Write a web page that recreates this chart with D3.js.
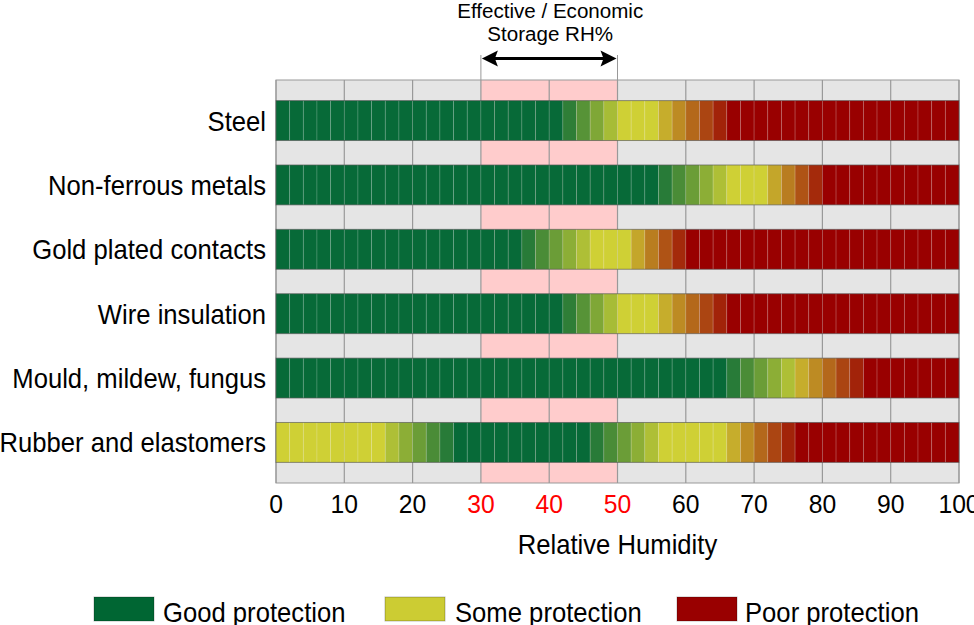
<!DOCTYPE html>
<html>
<head>
<meta charset="utf-8">
<script src="https://cdn.jsdelivr.net/npm/d3@7/dist/d3.min.js"></script>
<style>
  html, body { margin: 0; padding: 0; background: #fff; overflow: hidden; }
  svg { display: block; }
  text { font-family: "Liberation Sans", Arial, sans-serif; }
</style>
</head>
<body>
<svg id="chart" width="974" height="625"></svg>
<script>
// ---------------- DATA ----------------
const categories = [
  "Steel",
  "Non-ferrous metals",
  "Gold plated contacts",
  "Wire insulation",
  "Mould, mildew, fungus",
  "Rubber and elastomers"
];
// protection levels: 0 = good, 1 = some, 2 = poor
const levelNames = ["Good protection", "Some protection", "Poor protection"];
// plateau zones per material: [fromRH, toRH, level]; cells between plateaus blend
const steelZones      = [[0, 42, 0], [50, 56, 1], [66, 100, 2]];
const nonFerrousZones = [[0, 56, 0], [66, 72, 1], [80, 100, 2]];
const goldZones       = [[0, 36, 0], [46, 52, 1], [60, 100, 2]];
const wireZones       = [[0, 42, 0], [50, 56, 1], [66, 100, 2]];
const mouldZones      = [[0, 66, 0], [76, 76, 1], [86, 100, 2]];
const rubberZones     = [[0, 16, 1], [26, 46, 0], [56, 66, 1], [76, 100, 2]];
const zones = [steelZones, nonFerrousZones, goldZones, wireZones, mouldZones, rubberZones];
const cellRH = 2;                       // RH width of one cell
const xTicks = [0, 10, 20, 30, 40, 50, 60, 70, 80, 90, 100];
const storageRange = [30, 50];          // effective / economic storage RH%

// ---------------- STYLE ----------------
const barColors = ["#076a38", "#cfd035", "#990000"];
const legendColors = ["#006633", "#cccc33", "#990000"];

const svg = d3.select("#chart");
const x = d3.scaleLinear().domain([0, 100]).range([276, 959]);
const y = d3.scaleBand().domain(categories).range([80, 483])
  .paddingInner(0.38).paddingOuter(0.32);

function stxt(g, px, py, str, size, sx, anchor, fill) {
  return g.append("text")
    .attr("transform", `translate(${px},${py}) scale(${sx},1)`)
    .attr("text-anchor", anchor)
    .attr("font-size", size)
    .attr("fill", fill || "#000")
    .text(str);
}

// background
const bg = svg.append("g");
bg.append("rect")
  .attr("x", x(0)).attr("y", 80)
  .attr("width", x(100) - x(0)).attr("height", 403)
  .attr("fill", "#e5e5e5");
bg.append("rect")
  .attr("x", x(storageRange[0])).attr("y", 80)
  .attr("width", x(storageRange[1]) - x(storageRange[0])).attr("height", 403)
  .attr("fill", "#ffcccc");
bg.selectAll("line.grid").data(xTicks).join("line")
  .attr("class", "grid")
  .attr("x1", d => x(d)).attr("x2", d => x(d))
  .attr("y1", 80).attr("y2", 483)
  .attr("stroke", "#999").attr("stroke-width", 1.2);
bg.append("rect")
  .attr("x", x(0)).attr("y", 80)
  .attr("width", x(100) - x(0)).attr("height", 403)
  .attr("fill", "none").attr("stroke", "#999").attr("stroke-width", 1);

// cells
function cellColor(zs, i) {
  const a0 = i * cellRH, a1 = a0 + cellRH, m = a0 + cellRH / 2;
  const inside = zs.find(z => z[0] <= a0 && a1 <= z[1]);
  if (inside) return barColors[inside[2]];
  let prev = null, next = null;
  zs.forEach(z => {
    if (z[1] <= a0 && (!prev || z[1] > prev[1])) prev = z;
    if (z[0] >= a1 && (!next || z[0] < next[0])) next = z;
  });
  const aPrev = prev[1] - cellRH / 2, bNext = next[0] + cellRH / 2;
  const t = (m - aPrev) / (bNext - aPrev);
  return d3.interpolateRgb(barColors[prev[2]], barColors[next[2]])(t);
}

const nCells = 100 / cellRH;
categories.forEach((cat, r) => {
  const cells = d3.range(nCells).map(i => ({ i, c: cellColor(zones[r], i) }));
  const g = svg.append("g");
  g.selectAll("rect").data(cells).join("rect")
    .attr("x", d => x(d.i * cellRH))
    .attr("y", y(cat))
    .attr("width", x(cellRH) - x(0))
    .attr("height", y.bandwidth())
    .attr("fill", d => d.c)
    .attr("stroke", "rgba(255,255,255,0.2)")
    .attr("stroke-width", 0.8);
  g.append("rect")
    .attr("x", x(0)).attr("y", y(cat))
    .attr("width", x(100) - x(0)).attr("height", y.bandwidth())
    .attr("fill", "none")
    .attr("stroke", "rgba(60,60,60,0.55)").attr("stroke-width", 1);
  stxt(svg, 266, y(cat) + y.bandwidth() / 2 + 10, cat, 27, 0.95, "end");
});

// storage range bracket + arrow
const ann = svg.append("g");
storageRange.forEach(v => {
  ann.append("line")
    .attr("x1", x(v)).attr("x2", x(v)).attr("y1", 55).attr("y2", 80)
    .attr("stroke", "#999").attr("stroke-width", 1);
});
const ax0 = x(storageRange[0]) + 1, ax1 = x(storageRange[1]) - 1, ay = 58.5;
ann.append("line")
  .attr("x1", ax0 + 10).attr("x2", ax1 - 10).attr("y1", ay).attr("y2", ay)
  .attr("stroke", "#000").attr("stroke-width", 3);
ann.append("path")
  .attr("d", `M${ax0},${ay} L${ax0 + 16},${ay - 8} L${ax0 + 13},${ay} L${ax0 + 16},${ay + 8} Z`)
  .attr("fill", "#000");
ann.append("path")
  .attr("d", `M${ax1},${ay} L${ax1 - 16},${ay - 8} L${ax1 - 13},${ay} L${ax1 - 16},${ay + 8} Z`)
  .attr("fill", "#000");
const annX = (x(storageRange[0]) + x(storageRange[1])) / 2 + 1;
stxt(ann, annX, 18, "Effective / Economic", 21, 0.98, "middle");
stxt(ann, annX, 41, "Storage RH%", 21, 0.98, "middle");

// x tick labels
const axisG = svg.append("g");
xTicks.forEach(t => {
  const red = t >= storageRange[0] && t <= storageRange[1];
  stxt(axisG, x(t), 513, String(t), 26, 0.95, "middle", red ? "#ff0000" : "#000");
});
stxt(axisG, (x(0) + x(100)) / 2, 554, "Relative Humidity", 27, 0.95, "middle");

// legend
const legendX = [94, 385, 677];
const legendTextX = [163, 455, 745];
const lg = svg.append("g");
levelNames.forEach((n, i) => {
  lg.append("rect")
    .attr("x", legendX[i]).attr("y", 597)
    .attr("width", 60).attr("height", 24)
    .attr("fill", legendColors[i])
    .attr("stroke", "rgba(0,0,0,0.25)").attr("stroke-width", 1);
  stxt(lg, legendTextX[i], 622, n, 27, 0.95, "start");
});
</script>
</body>
</html>
